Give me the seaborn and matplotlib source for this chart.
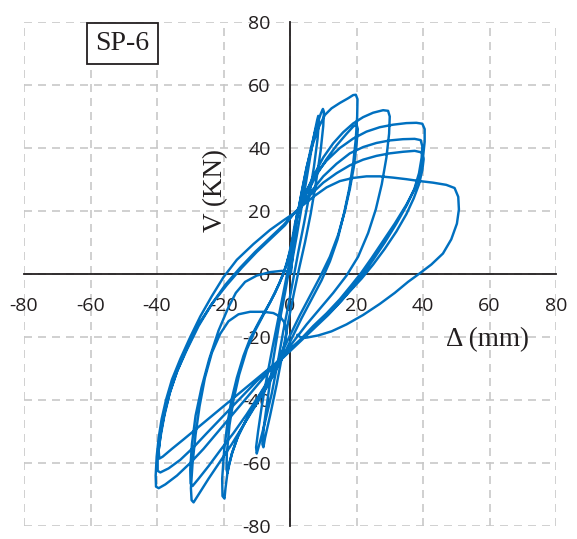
import matplotlib
matplotlib.use("Agg")
import matplotlib.pyplot as plt
import pandas as pd
import seaborn as sns

# Cyclic load test of specimen SP-6: lateral displacement (mm) and shear force (kN),
# one list pair per loading cycle, in test order.
cycle_10a_disp = [0, 0.8, 2, 3.3, 4.8, 6.2, 7.4, 8.2, 8.5, 8.7, 8.3, 7.2, 5.8, 4.2, 2.5, 1.0,
                  -0.5, -2.0, -3.5, -5.5, -7.5, -9.2, -10.0, -10.2, -9.6, -8.5, -7.0, -5.2,
                  -3.5, -1.8, -0.3, 0.8, 1.6]
cycle_10a_load = [0, 5, 12, 20, 29, 38, 45, 49, 50.2, 48.5, 43, 34, 25, 16, 7, -1.5,
                  -10, -18, -27, -38, -47, -54, -57, -55, -50, -42, -33, -23,
                  -14, -5, 3, 10, 15]

cycle_10b_disp = [2.8, 4.5, 6.3, 8.0, 9.3, 9.9, 10.2, 10.0, 9.2, 7.8, 6.2, 4.5, 2.8, 1.2,
                  -0.5, -2.2, -4.0, -6.0, -7.5, -8.0, -8.3, -7.8, -6.5, -5.0, -3.3, -1.5,
                  0.0, 1.2, 2.0]
cycle_10b_load = [22, 31, 40, 47, 51, 52.4, 51.5, 47, 39, 29, 19, 10, 2, -6,
                  -15, -25, -35, -45, -52, -55, -54, -48, -38, -27, -16, -6,
                  3, 11, 17]

cycle_20a_disp = [3.5, 5.0, 6.8, 8.6, 10.5, 12.5, 15.0, 17.5, 19.0, 19.8, 20.3, 20.2, 19.8,
                  19.0, 17.8, 16.2, 14.3, 12.0, 9.5, 6.5, 3.5, 0.5, -3.0, -5.0, -8.0, -11.0,
                  -13.5, -15.8, -17.5, -18.8, -19.4, -19.7, -20.3, -20.4, -19.8, -18.9,
                  -17.6, -16.0, -14.0, -12.0, -9.0, -6.0, -3.2, -1.0, 0.5, 1.5, 2.5]
cycle_20a_load = [26, 34, 41, 46.5, 50.5, 52.6, 54.3, 55.8, 56.8, 56.9, 55.5, 50, 43,
                  35, 27, 19, 11, 4, -2, -8, -14, -20.5, -28, -32, -37.5, -42.5,
                  -47, -52, -57, -63, -68, -71.3, -70.5, -65, -56, -48,
                  -40, -33, -26, -20.5, -14.5, -9, -3, 3, 10, 16, 20]

cycle_20b_disp = [5, 8, 11, 14, 17, 19, 20, 20.4, 20, 19.2, 18, 16.5, 14.5, 12, 9, 6, 3, 0,
                  -2.5, -4.5, -7, -10, -13, -15.5, -17.3, -18.5, -18.8, -19.1, -19, -18.2,
                  -17, -15.3, -13, -10.5, -7.5, -4.5, -2, 0, 1.2, 2]
cycle_20b_load = [25.5, 31.5, 36.5, 40.8, 44.5, 46.8, 47.5, 46, 41, 34, 27, 20, 12.5, 5.5,
                  -1, -7, -13, -19.5, -25, -30, -35, -40, -46, -51, -56.5, -61, -63.2,
                  -62, -57, -48, -40, -32, -24, -18, -12, -6, 0, 7, 13, 18]

cycle_30_disp = [4, 7, 10, 13, 16, 19, 22, 25, 28, 29.5, 30, 29.8, 29, 27.6, 25.8, 23.5, 20.5,
                 17, 13, 9, 5, 1, -2, -4, -7, -10.5, -14, -17.5, -21, -24.5, -27.5, -29,
                 -29.6, -29.8, -29.3, -28.4, -27.2, -25.6, -23.5, -21, -18.5, -15.5, -12, -8,
                 -5, -3, -1.6, -1, -1.5, -3, -5.5, -9, -13, -17, -21, -24.5, -27.5, -29.3,
                 -29.9, -30, -29.5, -28.4, -26.6, -24.3, -21.5, -18.7, -16.3, -13.5, -10, -6,
                 -2.5, -0.5, 0.3, 0.8, 1.3, 1.8, 2.2]
cycle_30_load = [24, 31, 37, 41.5, 45, 47.8, 49.8, 51.2, 52, 51.8, 50, 44.5, 37, 28.5, 20.5,
                 13, 5.5, -0.5, -6, -11, -16, -21.5, -26, -30, -36, -42, -48, -54, -59.5,
                 -65, -70, -72.5, -71.8, -68, -60, -51, -42, -33, -25, -19, -15, -12.8, -12,
                 -12, -12.4, -13.5, -15.5, -18.5, -22, -27, -32, -38, -44.5, -50.5, -56, -61,
                 -65, -67.3, -66.5, -62, -54, -45, -36, -27, -18, -11, -6, -2.5, -0.5, 0.6,
                 1, 0.8, 0.3, 6, 12, 17, 20]

cycle_40a_disp = [5, 8, 11, 15, 19, 23, 27, 31, 35, 38, 39.8, 40.5, 40.5, 40, 39, 37.5, 35,
                  31.5, 28, 24.5, 21.5, 18.5, 15, 11, 7, 3, -0.5, -3.5, -6, -10, -14, -18,
                  -22, -26, -30, -34, -37.5, -39.5, -40.3, -40.4, -40.1, -39.5, -38.6, -37.3,
                  -35.5, -33, -30, -27, -23.5, -20, -16, -11, -6, -2, 1.5]
cycle_40a_load = [26.5, 32, 36, 40, 43, 45.2, 46.6, 47.4, 47.9, 48, 47.7, 46, 42, 37, 31.5,
                  27, 22, 16, 10.5, 5, 0.5, -3.5, -8, -12.5, -16.5, -21, -24.5, -28, -30.5,
                  -35.5, -40.5, -45.5, -50.5, -55.5, -60, -64, -66.8, -68, -67.5, -64, -58,
                  -52, -46, -40, -33.5, -27, -20, -13.5, -7, -1, 4.5, 9.5, 14, 17, 19.5]

cycle_40b_disp = [4, 7, 10, 14, 18, 22, 26, 30, 34, 37.5, 39.3, 39.8, 39.6, 38.8, 37.4, 35.2,
                  32, 28.5, 25, 22, 19, 15.5, 11.5, 7.5, 3.5, 0, -3, -6, -10, -15, -20, -25,
                  -29, -33, -36.5, -39, -39.8, -39.8, -39, -37.8, -36.2, -34, -31, -27.5,
                  -23.5, -19.5, -15, -10.5, -6, -2, 1, 3]
cycle_40b_load = [22.5, 27, 31, 35, 38.3, 40.3, 41.6, 42.4, 42.8, 42.9, 42.5, 40.5, 37, 32,
                  27, 22, 16, 10, 4.5, 0, -4, -8.5, -13, -17, -21, -24.5, -27.5, -30, -34,
                  -39.5, -45, -50.5, -55, -59, -61.7, -63, -62.5, -58.5, -52, -45, -38, -31,
                  -24, -16.5, -9.5, -3.5, 2, 7, 11.5, 15.5, 19, 21]

cycle_40c_disp = [6, 10, 14, 18, 22, 26, 30, 34, 37.5, 39.6, 40.2, 39.8, 38.8, 37.2, 35, 32,
                  28.5, 25, 21.5, 18, 14, 10, 6, 2, -1.5, -4.5, -8, -12, -16, -20, -24, -28,
                  -32, -35.5, -38.3, -39.3, -39.5, -38.8, -37.6, -36, -33.8, -31, -27.5,
                  -23.5, -19, -14.5, -10, -5.5, -1.5, 1, 3.5]
cycle_40c_load = [25, 29, 32, 34.5, 36.3, 37.5, 38.3, 38.8, 39.1, 38.6, 36.5, 33, 28.5, 24,
                  19, 13.5, 8, 3, -1.5, -5.5, -10, -14, -18, -22, -25.5, -28.5, -31.5, -35,
                  -38.5, -42, -45.5, -49, -52.5, -55.5, -58, -58.6, -56, -50, -43.5, -37,
                  -30.5, -23.5, -16, -9.5, -3.5, 2, 7, 11.5, 15.5, 19, 21.5]

cycle_50_disp = [7, 11, 15, 19, 23, 27, 31, 35, 39, 43, 47, 49.5, 50.6, 50.8, 50.2, 48.5, 46,
                 42.5, 39, 35.5, 31.5, 27, 22, 17, 12.5, 8.5, 5, 3.2, 2.2]
cycle_50_load = [24.5, 27.5, 29.5, 30.5, 31, 31, 30.6, 30.1, 29.5, 29, 28.3, 27.3, 24.5, 20.5,
                 16, 11, 6.5, 3, 0.2, -2.5, -6, -9.5, -13, -16, -18.2, -19.5, -20.2, -20.1,
                 -19.3]

cycles = [
    ("10a", cycle_10a_disp, cycle_10a_load),
    ("10b", cycle_10b_disp, cycle_10b_load),
    ("20a", cycle_20a_disp, cycle_20a_load),
    ("20b", cycle_20b_disp, cycle_20b_load),
    ("30", cycle_30_disp, cycle_30_load),
    ("40a", cycle_40a_disp, cycle_40a_load),
    ("40b", cycle_40b_disp, cycle_40b_load),
    ("40c", cycle_40c_disp, cycle_40c_load),
    ("50", cycle_50_disp, cycle_50_load),
]

axis_ticks = [-80, -60, -40, -20, 0, 20, 40, 60, 80]

rows = []
for name, d, v in cycles:
    for x, y in zip(d, v):
        rows.append((x, y))
history = pd.DataFrame(rows, columns=["disp", "load"])

sns.set_style("white")
plt.rcParams["font.family"] = ["Open Sans", "DejaVu Sans"]

fig = plt.figure(figsize=(5.77, 5.39), dpi=100)
ax = fig.add_axes([24 / 577, 13 / 539, 532 / 577, 504 / 539])

sns.lineplot(data=history, x="disp", y="load", sort=False, estimator=None,
             color="#0070C0", linewidth=1.75, ax=ax)
for ln in ax.lines:
    ln.set_solid_joinstyle("round")
    ln.set_solid_capstyle("round")
    ln.set_zorder(3)

ax.set_xlim(-80, 80)
ax.set_ylim(-80, 80)
ax.set_xticks(axis_ticks)
ax.set_yticks(axis_ticks)
ax.set_xticklabels([str(t) for t in axis_ticks])
ax.set_yticklabels([str(t) for t in axis_ticks])
ax.set_xlabel("")
ax.set_ylabel("")

ax.grid(True, color="#C8C8C8", linestyle=(0, (4.8, 3.6)), linewidth=1.2)
ax.set_axisbelow(True)

for side in ["top", "right"]:
    ax.spines[side].set_visible(False)
ax.spines["left"].set_position("zero")
ax.spines["bottom"].set_position("zero")
for side in ["left", "bottom"]:
    ax.spines[side].set_color("#231F20")
    ax.spines[side].set_linewidth(1.3)
    ax.spines[side].set_zorder(2)

ax.tick_params(length=0, labelsize=14, colors="#231F20")
ax.tick_params(axis="x", pad=16.5)
ax.tick_params(axis="y", pad=14)

serif = ["Liberation Serif", "DejaVu Serif"]
ax.text(-22.5, 26.5, "V (KN)", rotation=90, ha="center", va="center",
        fontsize=19.5, family=serif, color="#231F20")
ax.text(59.5, -20.8, "Δ (mm)", ha="center", va="center",
        fontsize=19.5, family=serif, color="#231F20")
ax.text(-50.4, 73.2, "SP-6", ha="center", va="center", fontsize=20, family=serif,
        color="#231F20", zorder=5,
        bbox=dict(boxstyle="square,pad=0.3", fc="white", ec="#231F20", lw=1.3))

fig.savefig("out.png", dpi=100)
